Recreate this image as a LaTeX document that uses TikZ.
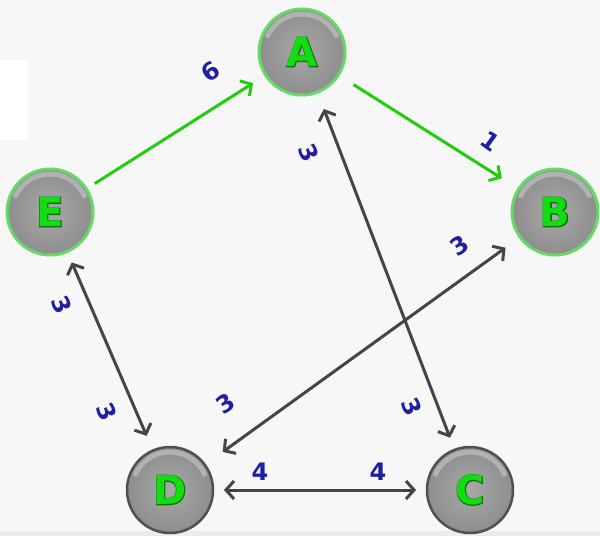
\documentclass[tikz,border=0pt]{standalone}
\usepackage{fontspec}
\setmainfont{DejaVu Sans}
\newfontfamily\outlinefont{DejaVu Sans Bold}[FakeBold=4]
\newfontfamily\letterfont{DejaVu Sans Bold}
\usetikzlibrary{arrows.meta}
\definecolor{bg}{HTML}{F7F7F7}
\definecolor{bottomgray}{HTML}{ECECEC}
\definecolor{edgegreen}{HTML}{22CC11}
\definecolor{edgegray}{HTML}{454545}
\definecolor{lblblue}{HTML}{1F1FA5}
\definecolor{lettergreen}{HTML}{11DD11}
\definecolor{letterdark}{HTML}{0A760A}
\definecolor{rimgreen}{HTML}{66D966}
\definecolor{rimgray}{HTML}{505050}
\definecolor{nodein}{HTML}{A8A8A8}
\definecolor{nodeout}{HTML}{8E8E8E}
\newcommand{\vletter}[1]{{\fontsize{40}{40}\selectfont\makebox[0pt]{\color{letterdark}\outlinefont #1}\makebox[0pt]{\color{lettergreen}\letterfont #1}}}
\begin{document}
\begin{tikzpicture}[x=1pt,y=-1pt,
  vertex/.style={circle, minimum size=86pt, inner sep=0pt, outer sep=0pt,
    inner color=nodein, outer color=nodeout, line width=3pt,
    path picture={\draw[white, opacity=0.3, line width=5pt, line cap=round]
      (path picture bounding box.center) ++(155:38pt) arc[start angle=155, end angle=25, radius=38pt];}},
  greenrim/.style={vertex, draw=rimgreen},
  grayrim/.style={vertex, draw=rimgray, line width=2.5pt},
  barb/.tip={Straight Barb[length=8pt,width=18pt]},
  gedge/.style={draw=edgegreen, line width=3pt, -barb},
  kedge/.style={draw=edgegray, line width=3pt, barb-barb},
  lbl/.style={text=lblblue, font=\fontsize{24}{24}\selectfont\bfseries, inner sep=0pt}]
\useasboundingbox (0,0) rectangle (600,536);
\fill[bg] (0,0) rectangle (600,536);
\fill[white] (0,60) rectangle (28,140);
\fill[bottomgray] (0,531) rectangle (600,536);

\node[greenrim] (A) at (302,52) {\vletter{A}};
\node[greenrim] (B) at (555,212) {\vletter{B}};
\node[greenrim] (E) at (50,212) {\vletter{E}};
\node[grayrim] (D) at (170,490) {\vletter{D}};
\node[grayrim] (C) at (470,490) {\vletter{C}};

\draw[gedge, shorten <=10pt, shorten >=15pt] (E) -- (A);
\draw[gedge, shorten <=18pt, shorten >=20pt] (A) -- (B);
\draw[kedge, shorten <=18pt, shorten >=13pt] (A) -- (C);
\draw[kedge, shorten <=18pt, shorten >=22pt] (B) -- (D);
\draw[kedge, shorten <=12pt, shorten >=16pt] (E) -- (D);
\draw[kedge, shorten <=11pt, shorten >=11pt] (D) -- (C);

\node[lbl, rotate=34] (l6) at (211,72) {6};
\node[lbl, rotate=-36] (l1) at (490,141) {1};
\node[lbl, rotate=-67] (lac1) at (309,153) {3};
\node[lbl, rotate=-67] (lac2) at (412,407) {3};
\node[lbl, rotate=34] (lbd1) at (460,246) {3};
\node[lbl, rotate=34] (lbd2) at (226,404) {3};
\node[lbl, rotate=-67] (led1) at (62,305) {3};
\node[lbl, rotate=-67] (led2) at (107,412) {3};
\node[lbl] (ldc1) at (260,472) {4};
\node[lbl] (ldc2) at (378,472) {4};
\end{tikzpicture}
\end{document}
